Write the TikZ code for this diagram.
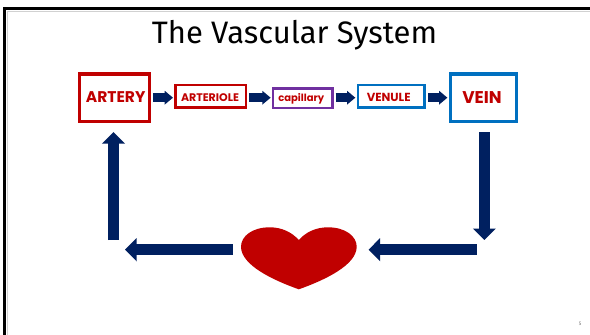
\documentclass[tikz,border=0pt]{standalone}
\usepackage{fontspec}
\setmainfont{Fira Sans}
\newfontfamily\boxfont{Poppins}
\usetikzlibrary{arrows.meta}
\definecolor{bloodred}{HTML}{C00000}
\definecolor{navy}{HTML}{002060}
\definecolor{purp}{HTML}{7030A0}
\definecolor{vblue}{HTML}{0070C0}
\tikzset{
  vessel/.style={draw=#1,fill=white,inner sep=0pt,text=bloodred,font=\boxfont\bfseries},
  bigbox/.style={line width=3.2pt,minimum width=70pt,minimum height=47.5pt},
  midbox/.style={line width=2.7pt,minimum height=22.5pt},
  smallarrow/.style={draw=navy,line width=8.7pt,-{Triangle[width=13.3pt,length=8.3pt]},shorten <=2pt,shorten >=1.2pt},
  bigarrow/.style={draw=navy,line width=11.3pt,-{Triangle[width=22.4pt,length=11.5pt]}},
  vlabel/.style={text=bloodred,inner sep=0pt,font=\boxfont\bfseries\fontsize{#1}{#1}\selectfont},
}
\begin{document}
\begin{tikzpicture}[x=1pt,y=-1pt]
\useasboundingbox (0,0) rectangle (590,335);
\fill[white] (0,0) rectangle (590,335);
% frame
\draw[black!18,line width=1pt] (7,335) -- (7,11) -- (590,11);
\draw[black,line width=3pt] (4.8,335) -- (4.8,8.5) -- (590,8.5);
\node[font=\fontsize{31}{31}\selectfont,anchor=base,text=black] (title) at (294.5,43) {The Vascular System};
% boxes
\node[vessel=bloodred,bigbox] (artery) at (114.5,97.8) {};
\node[vlabel=15.5] (arteryt) at (115.7,97.5) {ARTERY};
\node[vessel=bloodred,midbox,minimum width=70.5pt] (arteriole) at (210.8,96.2) {};
\node[vlabel=11] (arteriolet) at (210,97.5) {ARTERIOLE};
\node[vessel=purp,line width=2.4pt,minimum width=59.3pt,minimum height=19.4pt] (capillary) at (302.7,98) {};
\node[vlabel=10] (capillaryt) at (301.3,98.6) {capillary};
\node[vessel=vblue,midbox,minimum width=66.8pt] (venule) at (391.3,96.2) {};
\node[vlabel=11.7] (venulet) at (388.7,97.5) {VENULE};
\node[vessel=vblue,bigbox,minimum width=66.6pt] (vein) at (483.5,97.8) {};
\node[vlabel=17] (veint) at (482,97.5) {VEIN};
% heart
\fill[bloodred] (298.8,240) .. controls (306,232) and (316,227.3) .. (328,227.3)
  .. controls (345,227.3) and (356.7,236) .. (356.7,246.7)
  .. controls (356.7,265) and (325,280) .. (298.8,289.3)
  .. controls (272.6,280) and (241,265) .. (241,246.7)
  .. controls (241,236) and (252.6,227.3) .. (269.6,227.3)
  .. controls (281.6,227.3) and (291.6,232) .. (298.8,240) -- cycle;
\node[minimum width=115.7pt,minimum height=62pt,inner sep=0pt] (heart) at (298.8,258.3) {};
% small connectors
\coordinate (row) at (0,97.7);
\draw[smallarrow] (artery.east |- row) -- (arteriole.west |- row);
\draw[smallarrow] (arteriole.east |- row) -- (capillary.west |- row);
\draw[smallarrow] (capillary.east |- row) -- (venule.west |- row);
\draw[smallarrow] (venule.east |- row) -- (vein.west |- row);
% big connectors
\coordinate (upstart) at (113.5,240);
\coordinate (dnend) at (484.3,240);
\coordinate (leftend) at (125,249.7);
\coordinate (rightstart) at (476.7,249.7);
\draw[bigarrow,shorten >=9pt] (upstart) -- (upstart |- artery.south);
\draw[bigarrow,shorten <=9pt] (dnend |- vein.south) -- (dnend);
\draw[bigarrow,shorten <=8pt] (heart.west |- leftend) -- (leftend);
\draw[bigarrow,shorten >=11.7pt] (rightstart) -- (heart.east |- rightstart);
\node[font=\fontsize{5}{5}\selectfont,text=black!55] (pagenum) at (580,324) {5};
\end{tikzpicture}
\end{document}
